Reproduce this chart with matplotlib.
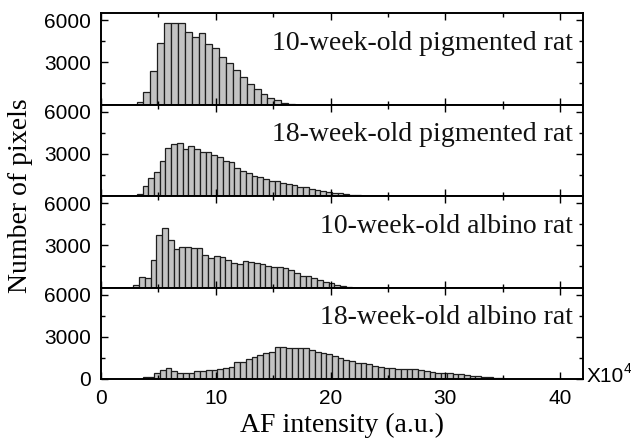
import matplotlib
matplotlib.use('Agg')
import matplotlib.pyplot as plt
import numpy as np
from matplotlib.ticker import MultipleLocator

# ---- data (AF intensity in units of 1e4; counts = number of pixels) ----
titles = ["10-week-old pigmented rat", "18-week-old pigmented rat",
          "10-week-old albino rat", "18-week-old albino rat"]

bin_starts = [3.1, 3.12, 2.83, 3.63]
bin_widths = [0.6, 0.5, 0.5, 0.5]

counts_10w_pigmented = [154, 911, 2402, 4390, 5763, 5763, 5810, 5171, 4816, 5053,
                        4272, 4035, 3396, 2970, 2450, 1976, 1456, 1077, 722, 485,
                        320, 83, 40]

counts_18w_pigmented = [142, 710, 1254, 1728, 2485, 3385, 3692, 3740, 3337, 3550,
                        3314, 3100, 3100, 2911, 2746, 2485, 2390, 1965, 1799, 1610,
                        1444, 1325, 1207, 1089, 1089, 947, 852, 781, 663, 615,
                        497, 426, 355, 260, 237, 189, 142, 95, 47, 24]

counts_10w_albino = [154, 769, 651, 1953, 3728, 4201, 3373, 2734, 2900, 2900,
                     2829, 2829, 2308, 2071, 2260, 2142, 1953, 1763, 1669, 1882,
                     1787, 1716, 1645, 1527, 1479, 1432, 1361, 1243, 1053, 840,
                     817, 651, 533, 391, 296, 154, 83, 59]

counts_18w_albino = [118, 118, 402, 639, 757, 592, 402, 402, 402, 592,
                     592, 639, 639, 686, 757, 876, 1184, 1184, 1397, 1539,
                     1704, 1823, 1941, 2249, 2249, 2225, 2225, 2178, 2178, 2059,
                     1941, 1823, 1775, 1633, 1468, 1349, 1278, 1160, 1112, 1041,
                     947, 876, 805, 757, 710, 686, 686, 686, 639, 592,
                     521, 450, 450, 402, 355, 331, 284, 237, 189, 166,
                     142, 95, 47]

all_counts = [counts_10w_pigmented, counts_18w_pigmented,
              counts_10w_albino, counts_18w_albino]

x_ticks = [0, 10, 20, 30, 40]

# ---- figure ----
fig = plt.figure(figsize=(6.31, 4.38), dpi=100)
left, right, bottom, top = 101 / 631, 583 / 631, 1 - 379 / 438, 1 - 13 / 438
h = (top - bottom) / 4
sans = 'Liberation Sans'
serif = 'Liberation Serif'

for i, (title, counts) in enumerate(zip(titles, all_counts)):
    ax = fig.add_axes([left, top - (i + 1) * h, right - left, h])
    edges = bin_starts[i] + bin_widths[i] * np.arange(len(counts))
    ax.bar(edges, counts, width=bin_widths[i], align='edge',
           color='#c3c3c3', edgecolor='#1e1e1e', linewidth=0.9)
    ax.set_xlim(0, 42)
    ax.set_ylim(0, 6500)
    ax.set_xticks(x_ticks)
    ax.xaxis.set_minor_locator(MultipleLocator(5))
    ax.set_yticks([0, 3000, 6000] if i == 3 else [3000, 6000])
    ax.yaxis.set_minor_locator(MultipleLocator(1500))
    ax.tick_params(which='both', direction='in', top=True, right=True,
                   width=1.0, color='black', labelsize=15, pad=7)
    ax.tick_params(which='major', length=5)
    ax.tick_params(which='minor', length=3)
    for lab in ax.get_xticklabels() + ax.get_yticklabels():
        lab.set_fontfamily(sans)
    for sp in ax.spines.values():
        sp.set_linewidth(1.4)
    if i < 3:
        ax.tick_params(labelbottom=False)
    ax.text(0.979, 0.60, title, transform=ax.transAxes, ha='right',
            va='baseline', fontsize=20, family=serif, color='#111111')

fig.text(21 / 631, (top + bottom) / 2, 'Number of pixels', rotation=90,
         ha='center', va='center', fontsize=20, family=serif)
fig.text((left + right) / 2, 1 - 432 / 438, 'AF intensity (a.u.)',
         ha='center', va='baseline', fontsize=20, family=serif)
fig.text(587 / 631, 1 - 382 / 438, 'X10', ha='left', va='baseline',
         fontsize=15, family=sans)
fig.text(624 / 631, 1 - 373 / 438, '4', ha='left', va='baseline',
         fontsize=10, family=sans)

fig.savefig('out.png', dpi=100)
